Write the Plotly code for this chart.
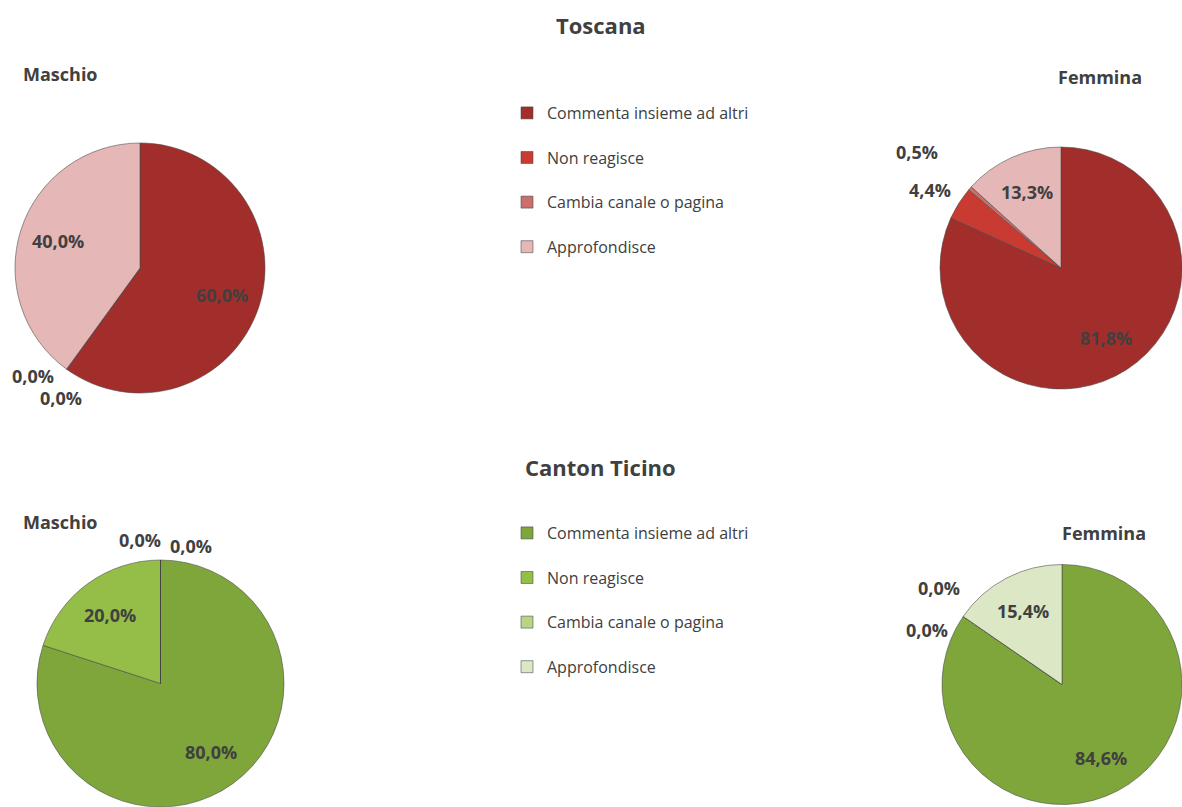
import math
import plotly.graph_objects as go

# Response categories (legend order, also slice order clockwise from 12 o'clock)
categories = ["Commenta insieme ad altri", "Non reagisce", "Cambia canale o pagina", "Approfondisce"]

# Shares (%) by region and gender
toscana_maschio = [60.0, 0.0, 0.0, 40.0]
toscana_femmina = [81.8, 4.4, 0.5, 13.3]
ticino_maschio = [80.0, 20.0, 0.0, 0.0]
ticino_femmina = [84.6, 0.0, 0.0, 15.4]

reds = ["#A22E2B", "#C93A33", "#CB6E6C", "#E5B7B7"]
greens = ["#7EA63B", "#94BE48", "#B8D484", "#DCE7C5"]

W, H = 1182, 807
FONT = "Open Sans"
TXT = "#404040"

# pie placement in pixels: (left, right, top, bottom)
boxes = {
    ("Toscana", "Maschio"): (15, 265, 143, 393),
    ("Toscana", "Femmina"): (940, 1182, 147, 389),
    ("Canton Ticino", "Maschio"): (37, 284, 560, 807),
    ("Canton Ticino", "Femmina"): (942, 1182, 562, 807),
}

series = {
    ("Toscana", "Maschio"): toscana_maschio,
    ("Toscana", "Femmina"): toscana_femmina,
    ("Canton Ticino", "Maschio"): ticino_maschio,
    ("Canton Ticino", "Femmina"): ticino_femmina,
}

# small labels sit outside the pie; these pixel nudges keep neighbours apart
outside_nudge = {
    ("Toscana", "Maschio"): {1: (-19, -13), 2: (9, 9)},
    ("Toscana", "Femmina"): {1: (-9, 0), 2: (-35, -20)},
    ("Canton Ticino", "Maschio"): {2: (-20, 4), 3: (31, 10)},
    ("Canton Ticino", "Femmina"): {1: (-4, -15), 2: (-16, 27)},
}


def fmt_pct(v, total):
    return f"{100 * v / total:.1f}%".replace(".", ",")


fig = go.Figure()
annotations = []
for (reg, gen), vals in series.items():
    l, r, t, b = boxes[(reg, gen)]
    colors = reds if reg == "Toscana" else greens
    # zero-width space keeps the two legends' entries apart
    suffix = "" if reg == "Toscana" else "\u200b"
    names = [c + suffix + "<br> " for c in categories]
    fig.add_trace(go.Pie(
        labels=names,
        values=vals,
        sort=False,
        direction="clockwise",
        rotation=0,
        domain=dict(x=[l / W, r / W], y=[1 - b / H, 1 - t / H]),
        marker=dict(colors=colors, line=dict(color="rgba(70,70,70,0.55)", width=1)),
        textinfo="none",
        showlegend=(gen == "Maschio"),
        legend="legend" if reg == "Toscana" else "legend2",
        hoverinfo="label+percent",
    ))

    # data labels placed from the slice angles
    cx, cy = (l + r) / 2, (t + b) / 2
    rad = min(r - l, b - t) / 2
    total = sum(vals)
    start = 0.0
    for i, v in enumerate(vals):
        span = 360.0 * v / total
        mid = math.radians(start + span / 2)
        start += span
        if v >= 10:
            R = 0.69 * rad
            dx, dy = 0, 0
        else:
            R = rad + 24
            dx, dy = outside_nudge[(reg, gen)].get(i, (0, 0))
        px = cx + R * math.sin(mid) + dx
        py = cy - R * math.cos(mid) + dy
        annotations.append(dict(
            text="<b>" + fmt_pct(v, total) + "</b>",
            x=px / W, y=1 - py / H, font=dict(size=18),
        ))

legend_style = dict(
    font=dict(family=FONT, size=16, color=TXT),
    valign="top",
    bgcolor="rgba(0,0,0,0)",
    borderwidth=0,
    xanchor="left",
    yanchor="top",
    itemclick=False,
    itemdoubleclick=False,
)

annotations += [
    dict(text="<b>Toscana</b>", x=601 / W, y=1 - 25 / H, font=dict(size=22)),
    dict(text="<b>Canton Ticino</b>", x=601 / W, y=1 - 467 / H, font=dict(size=22)),
    dict(text="<b>Maschio</b>", x=60 / W, y=1 - 74 / H, font=dict(size=18)),
    dict(text="<b>Femmina</b>", x=1100 / W, y=1 - 77 / H, font=dict(size=18)),
    dict(text="<b>Maschio</b>", x=60 / W, y=1 - 522 / H, font=dict(size=18)),
    dict(text="<b>Femmina</b>", x=1104 / W, y=1 - 533 / H, font=dict(size=18)),
]
for a in annotations:
    a.update(xref="paper", yref="paper", showarrow=False, xanchor="center", yanchor="middle")
    a["font"].update(family=FONT, color=TXT)

fig.update_layout(
    width=W, height=H,
    margin=dict(l=0, r=0, t=0, b=0),
    paper_bgcolor="white",
    plot_bgcolor="white",
    separators=",.",
    legend=dict(x=507 / W, y=1 - 96 / H, **legend_style),
    legend2=dict(x=507 / W, y=1 - 516 / H, **legend_style),
    annotations=annotations,
)

fig.write_html("out.html")
